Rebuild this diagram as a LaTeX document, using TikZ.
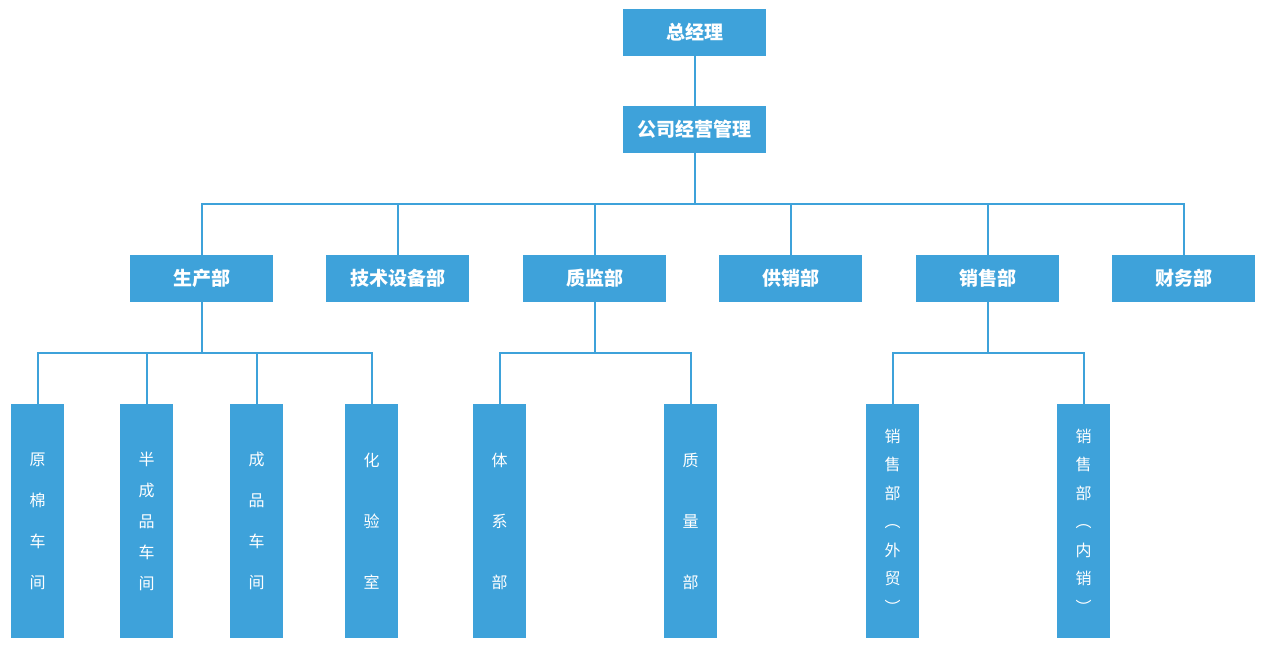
\documentclass[tikz,border=0pt]{standalone}
\usepackage{fontspec}
\setmainfont{Noto Sans CJK SC}
\definecolor{boxblue}{HTML}{3EA2DA}
\tikzset{
  box/.style={fill=boxblue, text=white, minimum width=143pt, minimum height=47pt,
    inner sep=0pt, font=\fontsize{19}{19}\selectfont\bfseries},
  vbox/.style={fill=boxblue, text=white, minimum width=53pt, minimum height=234pt,
    inner sep=0pt, align=center, font=\fontsize{16}{#1}\selectfont},
  link/.style={draw=boxblue, line width=2pt}
}
\begin{document}
\begin{tikzpicture}[x=1pt,y=-1pt]
\useasboundingbox (0,0) rectangle (1264,654);
% top
\node[box] (gm)   at (694.5,32.5)  {总经理};
\node[box] (mgmt) at (694.5,129.5) {公司经营管理};
% departments
\node[box] (prod) at (201.5,278.5)  {生产部};
\node[box] (tech) at (397.5,278.5)  {技术设备部};
\node[box] (qc)   at (594.5,278.5)  {质监部};
\node[box] (supp) at (790.5,278.5)  {供销部};
\node[box] (sale) at (987.5,278.5)  {销售部};
\node[box] (fin)  at (1183.5,278.5) {财务部};
% sections
\node[vbox=41] (cotton) at (37.5,521)  {原\\棉\\车\\间};
\node[vbox=31] (semi)   at (146.5,521) {半\\成\\品\\车\\间};
\node[vbox=41] (final)  at (256.5,521) {成\\品\\车\\间};
\node[vbox=61] (lab)    at (371.5,521) {化\\验\\室};
\node[vbox=61] (sys)    at (499.5,521) {体\\系\\部};
\node[vbox=61] (qual)   at (690.5,521) {质\\量\\部};
\node[vbox=28.5] (ext)  at (892.5,521) {销\\售\\部\\︵\\外\\贸\\︶};
\node[vbox=28.5] (int)  at (1083.5,521) {销\\售\\部\\︵\\内\\销\\︶};
% connectors
\draw[link] (gm) -- (mgmt);
\foreach \d in {prod,tech,qc,supp,sale,fin}
  \draw[link] (mgmt.south) -- ++(0,51) -| (\d.north);
\foreach \s in {cotton,semi,final,lab}
  \draw[link] (prod.south) -- ++(0,51) -| (\s.north);
\foreach \s in {sys,qual}
  \draw[link] (qc.south) -- ++(0,51) -| (\s.north);
\foreach \s in {ext,int}
  \draw[link] (sale.south) -- ++(0,51) -| (\s.north);
\end{tikzpicture}
\end{document}
